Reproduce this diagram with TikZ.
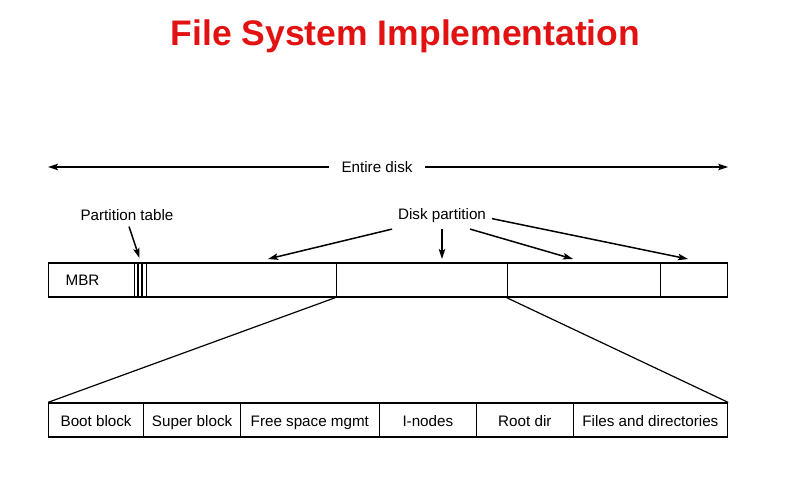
\documentclass[tikz,border=0pt]{standalone}
\usepackage{fontspec}
\setmainfont{Liberation Sans}
\usepackage{tikz}
\usetikzlibrary{positioning,arrows.meta}
\definecolor{titlered}{RGB}{226,18,18}

\begin{document}
\begin{tikzpicture}[x=1bp, y=-1bp, font=\fontsize{15.2bp}{18bp}\selectfont, line width=1.2bp,
  >={Stealth[length=10bp, width=6.5bp, inset=2bp]},
  seg/.style={draw, anchor=west, inner sep=0pt, minimum height=34bp, text height=14bp, text depth=2bp},
  lbl/.style={inner sep=1bp, outer sep=5bp},
  pointer/.style={->, line width=1.5bp}]
  \useasboundingbox (0,0) rectangle (799,482);
  \def\rowD{280} \def\rowB{420} \def\tipY{259}
  \node[font=\fontsize{35.5bp}{40bp}\selectfont\bfseries, text=titlered, anchor=base] (title) at (405.5,46) {File System Implementation};
  % whole disk
  \foreach \n/\a/\b in {mbr/48/134, ptab/134/146, pA/146/335.5, pB/335.5/506.5, pC/506.5/660, pD/660/727}
    \node[seg, minimum width={(\b-\a)*1bp}] (\n) at (\a,\rowD) {};
  \node[anchor=base west, inner sep=0pt] (mbrtext) at (65,286) {MBR};
  \foreach \s in {4,8}
    \draw ([xshift=\s bp]ptab.north west) -- ([xshift=\s bp]ptab.south west);
  % one partition
  \foreach \n/\a/\b/\t in {boot/48/143/Boot block, super/143/240/Super block, free/240/378.5/Free space mgmt,
      inodes/378.5/476/I-nodes, root/476/572.5/Root dir, files/572.5/727/Files and directories}
    \node[seg, minimum width={(\b-\a)*1bp}] (\n) at (\a,\rowB) {\t};
  \draw (pB.south west) -- (boot.north west);
  \draw (pC.south west) -- (files.north east);
  % labels and arrows
  \node[inner sep=0pt, inner xsep=12bp] (whole) at (377,167) {Entire disk};
  \draw[pointer] (whole.west) -- (whole -| mbr.west);
  \draw[pointer] (whole.east) -- (whole -| pD.east);
  \node[lbl] (ptlabel) at (127,215) {Partition table};
  \coordinate (tipT) at (139.5,258);
  \draw[pointer] (ptlabel.-80) -- (tipT);
  \node[lbl] (dp) at (442,216) {Disk partition};
  \coordinate (tipA) at (268,\tipY);
  \coordinate (tipB) at (442,\tipY);
  \coordinate (tipC) at (573,\tipY);
  \coordinate (tipD) at (688,\tipY);
  \draw[pointer] (dp.south west) -- (tipA);
  \draw[pointer] (dp.south) -- (tipB);
  \draw[pointer] (dp.-25) -- (tipC);
  \draw[pointer] (dp.-3) -- (tipD);
\end{tikzpicture}
\end{document}
